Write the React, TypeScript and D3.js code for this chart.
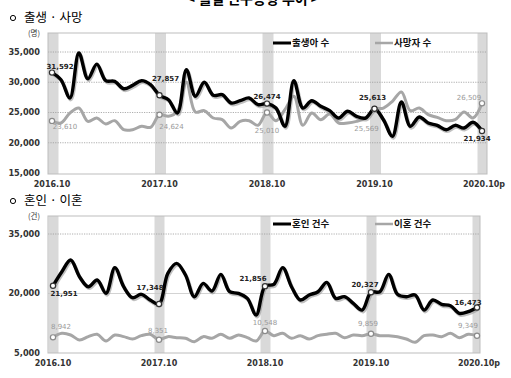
import React from "react";
import * as d3 from "d3";

// ---- data (monthly, 2016.10 .. 2020.10) ----
const tickLabels = ["2016.10", "2017.10", "2018.10", "2019.10", "2020.10p"];
const tickIndex = [0, 12, 24, 36, 48];

const births = [
  31592, 30420, 27400,
  34830, 30590, 33000, 30260, 30150, 28930, 29490, 30260, 29600, 27857, 27120, 24920,
  32080, 27680, 29990, 27840, 27940, 26570, 26950, 27400, 26290, 26474, 25740, 22720,
  30260, 25740, 26950, 26020, 25300, 24090, 25200, 24370, 24090, 25613, 23810, 21070,
  26740, 22720, 24260, 23260, 22880, 22160, 22880, 22440, 23380, 21934,
];
const deaths = [
  23610, 23260, 24920,
  25740, 23540, 24090, 23100, 23650, 22160, 22160, 22720, 22550, 24624, 24370, 25200,
  30000, 25080, 25300, 24090, 23810, 22440, 23540, 23650, 22880, 25010, 23650, 25460,
  27680, 22880, 24920, 23810, 24750, 23260, 23260, 23540, 24090, 25569, 25740, 26850,
  28390, 25300, 25740, 24640, 24200, 23650, 23810, 25080, 24090, 26509,
];
const marriages = [
  21951, 25490, 28440,
  24230, 21710, 23400, 20050, 26520, 21710, 18940, 19790, 18360, 17348, 25090, 27600,
  24660, 19190, 22560, 20630, 24830, 20450, 20050, 18780, 14580, 21856, 22310, 26520,
  21710, 18360, 19620, 20450, 22800, 18780, 19190, 17500, 15830, 20327, 20450, 24830,
  19790, 19190, 19620, 15830, 18360, 17270, 16920, 14990, 15410, 16473,
];
const divorces = [
  8942, 9960, 9540,
  8280, 9120, 9710, 8030, 9540, 9120, 8530, 9370, 9710, 8351, 9120, 8870,
  8700, 7850, 9120, 8700, 9710, 8700, 9540, 8870, 8030, 10548, 9370, 9960,
  8700, 9370, 8530, 9370, 9710, 9960, 8870, 9540, 9370, 9859, 9370, 9370,
  9120, 8530, 7700, 9370, 9540, 9120, 9960, 8870, 9710, 9349,
];
const topTicks = [15000, 20000, 25000, 30000, 35000];
const bottomTicks = [5000, 20000, 35000];

// ---- layout (not data) ----
const topLabelOffsets = {
  a: [[8, -6], [6, -17], [0, -7], [-2, -11], [-5, 8]],
  b: [[13, 6], [12, 12], [0, 18], [-8, 19], [-13, -6]],
};
const bottomLabelOffsets = {
  a: [[11, 8], [-9, -16], [-12, -8], [-6, -8], [-9, -5]],
  b: [[8, -11], [-1, -9], [0, -8], [-3, -10], [-9, -10]],
};

const fmt = d3.format(",");
const NUM_FONT = "'DejaVu Sans', Verdana, sans-serif";
const KR_FONT = "'Noto Sans CJK KR', sans-serif";

type PanelProps = {
  a: number[];
  b: number[];
  aName: string;
  bName: string;
  unit: string;
  title: string;
  titleY: number;
  frame: { x0: number; x1: number; y0: number; y1: number };
  xRange: [number, number];
  yDomain: [number, number];
  yRange: [number, number];
  ticks: number[];
  dotted: number[];
  solid: number[];
  band: [number, number];
  offsets: { a: number[][]; b: number[][] };
  legendY: number;
};

function Panel(p: PanelProps) {
  const x = d3.scaleLinear().domain([0, 48]).range(p.xRange);
  const y = d3.scaleLinear().domain(p.yDomain).range(p.yRange);
  const line = d3
    .line<number>()
    .x((_, i) => x(i))
    .y((d) => y(d))
    .curve(d3.curveCatmullRom.alpha(0.5));
  const { x0, x1, y0, y1 } = p.frame;
  return (
    <g>
      {/* section header */}
      <circle cx={13} cy={p.titleY - 4} r={2.6} fill="none" stroke="#000" strokeWidth={1} />
      <text x={24} y={p.titleY} fontFamily={KR_FONT} fontSize={12.5} fill="#000">
        {p.title}
      </text>
      {/* bands */}
      {tickIndex.map((ti) => {
        const bx0 = Math.max(x0, x(ti) + p.band[0]);
        const bx1 = Math.min(x1, x(ti) + p.band[1]);
        return <rect key={ti} x={bx0} y={y0} width={bx1 - bx0} height={y1 - y0} fill="#d9d9d9" />;
      })}
      {/* gridlines */}
      {p.dotted.map((v) => (
        <line key={"d" + v} x1={x0} x2={x1} y1={y(v)} y2={y(v)} stroke="#9a9a9a" strokeWidth={0.8} strokeDasharray="1.2,1.2" />
      ))}
      {p.solid.map((v) => (
        <line key={"s" + v} x1={x0} x2={x1} y1={y(v)} y2={y(v)} stroke="#c8c8c8" strokeWidth={0.8} />
      ))}
      <rect x={x0} y={y0} width={x1 - x0} height={y1 - y0} fill="none" stroke="#bdbdbd" strokeWidth={1} />
      {/* y ticks */}
      <text x={40} y={y0 + 3} textAnchor="end" fontFamily={KR_FONT} fontSize={7.5} fill="#333">
        {p.unit}
      </text>
      {p.ticks.map((v) => (
        <text key={v} x={40} y={y(v)} dy="0.35em" textAnchor="end" fontFamily={NUM_FONT} fontWeight="bold" fontSize={8.2} fill="#333">
          {fmt(v)}
        </text>
      ))}
      {tickIndex.map((ti, k) => (
        <text key={ti} x={x(ti) + (k === 4 ? 2 : 0)} y={y1 + 10} dy="0.35em" textAnchor="middle" fontFamily={NUM_FONT} fontWeight="bold" fontSize={8} fill="#333">
          {tickLabels[k]}
        </text>
      ))}
      {/* lines */}
      <path d={line(p.b) || ""} fill="none" stroke="#a6a6a6" strokeWidth={3} strokeLinejoin="round" />
      <path d={line(p.a) || ""} fill="none" stroke="#8c8c8c" strokeOpacity={0.55} strokeWidth={3.6} transform="translate(1,1.6)" strokeLinejoin="round" />
      <path d={line(p.a) || ""} fill="none" stroke="#000" strokeWidth={3.4} strokeLinejoin="round" />
      {/* markers & labels */}
      {tickIndex.map((ti, k) => (
        <g key={"m" + ti}>
          <circle cx={x(ti)} cy={y(p.b[ti])} r={2.6} fill="#fff" stroke="#8a8a8a" strokeWidth={1.2} />
          <circle cx={x(ti)} cy={y(p.a[ti])} r={2.6} fill="#fff" stroke="#333" strokeWidth={1.2} />
          <text x={x(ti) + p.offsets.a[k][0]} y={y(p.a[ti]) + p.offsets.a[k][1]} dy="0.35em" textAnchor="middle" fontFamily={NUM_FONT} fontWeight="bold" fontSize={7} fill="#222">
            {fmt(p.a[ti])}
          </text>
          <text x={x(ti) + p.offsets.b[k][0]} y={y(p.b[ti]) + p.offsets.b[k][1]} dy="0.35em" textAnchor="middle" fontFamily={NUM_FONT} fontSize={7} fill="#9a9a9a">
            {fmt(p.b[ti])}
          </text>
        </g>
      ))}
      {/* legend */}
      <line x1={273} x2={291} y1={p.legendY} y2={p.legendY} stroke="#000" strokeWidth={3} />
      <text x={292} y={p.legendY} dy="0.35em" fontFamily={KR_FONT} fontWeight="bold" fontSize={9.5} fill="#111">
        {p.aName}
      </text>
      <line x1={375} x2={393} y1={p.legendY} y2={p.legendY} stroke="#a6a6a6" strokeWidth={2.5} />
      <text x={394} y={p.legendY} dy="0.35em" fontFamily={KR_FONT} fontWeight="bold" fontSize={9.5} fill="#111">
        {p.bName}
      </text>
    </g>
  );
}

export default function App() {
  return (
    <svg
      width={511}
      height={378}
      style={{ position: "absolute", left: 0, top: 0, background: "#fff" }}
    >
      <text x={253} y={4} textAnchor="middle" fontFamily={KR_FONT} fontWeight="bold" fontSize={14} fill="#000">
        &lt; 월별 인구동향 추이 &gt;
      </text>
      <Panel
        a={births}
        b={deaths}
        aName="출생아 수"
        bName="사망자 수"
        unit="(명)"
        title="출생 · 사망"
        titleY={22}
        frame={{ x0: 48, x1: 487, y0: 33, y1: 174 }}
        xRange={[52, 482]}
        yDomain={[15000, 35000]}
        yRange={[173, 52]}
        ticks={topTicks}
        dotted={[35000, 30000, 25000, 20000]}
        solid={[]}
        band={[-4.5, 6.5]}
        offsets={topLabelOffsets}
        legendY={43}
      />
      <Panel
        a={marriages}
        b={divorces}
        aName="혼인 건수"
        bName="이혼 건수"
        unit="(건)"
        title="혼인 · 이혼"
        titleY={205}
        frame={{ x0: 48, x1: 480, y0: 216, y1: 353 }}
        xRange={[53, 477]}
        yDomain={[5000, 35000]}
        yRange={[353, 234]}
        ticks={bottomTicks}
        dotted={[35000]}
        solid={[20000]}
        band={[-4.5, 5.5]}
        offsets={bottomLabelOffsets}
        legendY={224}
      />
    </svg>
  );
}
